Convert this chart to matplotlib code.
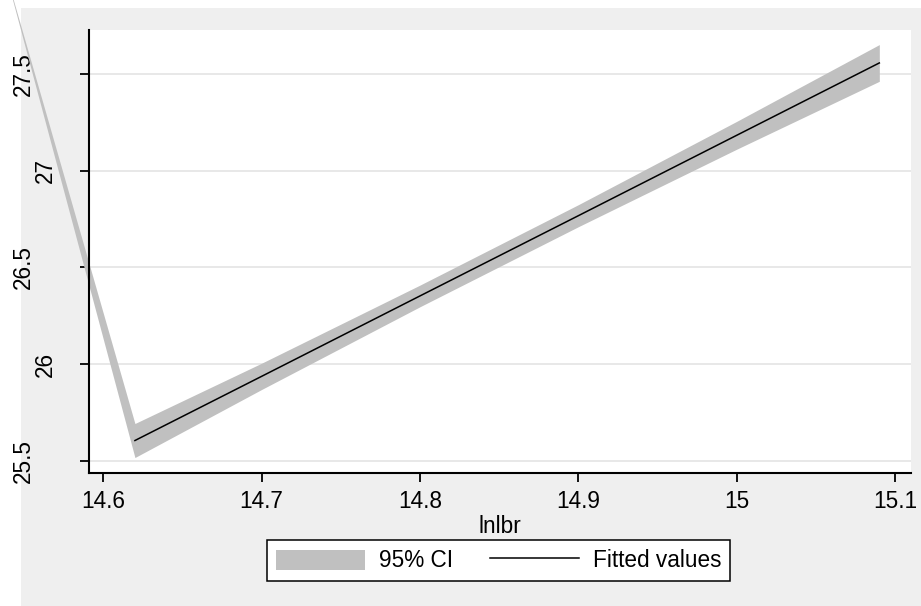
import matplotlib
matplotlib.use("Agg")
import matplotlib.pyplot as plt
from matplotlib.patches import Rectangle, Patch
from matplotlib.lines import Line2D

plt.rcParams['font.family'] = ['Liberation Sans', 'DejaVu Sans']

# ---- data ----
fit_x = [14.62, 14.70, 14.80, 14.90, 15.00, 15.09]
fit_y = [25.604, 25.936, 26.352, 26.767, 27.183, 27.557]
# 95% CI band (first point is the stray far-left vertex seen in the reference)
ci_x = [14.536, 14.62, 14.70, 14.80, 14.90, 15.00, 15.09]
ci_lo = [28.09, 25.516, 25.868, 26.296, 26.710, 27.111, 27.462]
ci_hi = [28.09, 25.692, 26.004, 26.408, 26.824, 27.255, 27.652]
xticks = [14.6, 14.7, 14.8, 14.9, 15.0, 15.1]
xticklabels = ["14.6", "14.7", "14.8", "14.9", "15", "15.1"]
yticks = [25.5, 26.0, 26.5, 27.0, 27.5]
yticklabels = ["25.5", "26", "26.5", "27", "27.5"]
xlabel = "lnlbr"
legend_labels = ["95% CI", "Fitted values"]

FS = 16.3
W, H = 921, 606
fig = plt.figure(figsize=(W / 100, H / 100), dpi=100, facecolor="white")
fig.add_artist(Rectangle((21 / W, 0), 1 - 21 / W, (H - 8) / H,
                         transform=fig.transFigure, facecolor="#efefef",
                         edgecolor="none", zorder=-10))

L, R, T, B = 89, 911, 29.5, 473
ax = fig.add_axes([L / W, (H - B) / H, (R - L) / W, (B - T) / H])
ax.set_facecolor("white")

band = ax.fill_between(ci_x, ci_lo, ci_hi, color="#c0c0c0", linewidth=0, zorder=1)
band.set_clip_on(False)
ax.plot(fit_x, fit_y, color="black", linewidth=1.1, zorder=2)

ax.set_xlim(14.591, 15.11)
ax.set_ylim(25.436, 27.73)

ax.set_xticks(xticks)
ax.set_xticklabels(xticklabels, fontsize=FS)
ax.set_yticks(yticks)
ax.set_yticklabels(yticklabels, fontsize=FS, rotation=90, va="center")
ax.yaxis.grid(True, color="#e8e8e8", linewidth=1.4)
ax.set_axisbelow(True)

for s in ["top", "right"]:
    ax.spines[s].set_visible(False)
for s in ["left", "bottom"]:
    ax.spines[s].set_linewidth(1.5)
    ax.spines[s].set_color("black")

ax.tick_params(axis="both", direction="out", length=6.5, width=1.3, color="black")
ax.tick_params(axis="x", pad=6)
for tick, lab in zip(ax.yaxis.get_major_ticks(), yticklabels):
    tick.set_pad(32.5 if "." in lab else 16.5)

ax.set_xlabel(xlabel, fontsize=FS, labelpad=1)

handles = [Patch(facecolor="#c0c0c0", edgecolor="none"),
           Line2D([], [], color="black", linewidth=1.1)]
leg = fig.legend(handles, legend_labels, loc="center",
                 bbox_to_anchor=(498.5 / W, 1 - 560.9 / H),
                 ncol=2, fontsize=FS, frameon=True, fancybox=False,
                 edgecolor="black", facecolor="white", framealpha=1,
                 handlelength=3.95, handleheight=1.0, handletextpad=0.6,
                 columnspacing=1.65, borderpad=0.4, borderaxespad=0)
leg.get_frame().set_linewidth(1.1)

fig.savefig("out.png", dpi=100, facecolor="white")
